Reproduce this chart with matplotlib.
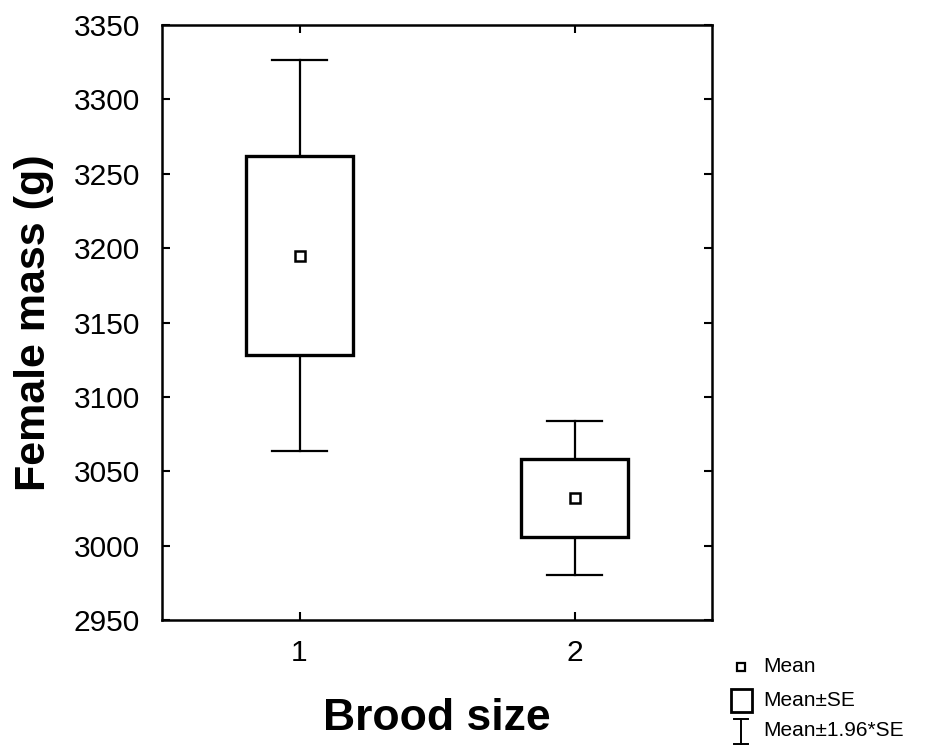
import matplotlib
matplotlib.use("Agg")
import matplotlib.pyplot as plt
from matplotlib.patches import Rectangle
from matplotlib.lines import Line2D
import numpy as np

plt.rcParams['font.family'] = ['Liberation Sans', 'DejaVu Sans']

# Female mass by brood size: mean and standard error
groups = [1, 2]
group_labels = ["1", "2"]
means = [3195.0, 3032.0]
se = [67.0, 26.5]
ci_factor = 1.96
y_ticks = [2950, 3000, 3050, 3100, 3150, 3200, 3250, 3300, 3350]

fig = plt.figure(figsize=(9.27, 7.46), dpi=100)
ax = fig.add_axes([162 / 927, 1 - 620 / 746, 550 / 927, 595 / 746])

box_w = 0.39
cap_w = 0.2
for x, m, s in zip(groups, means, se):
    lo, hi = m - ci_factor * s, m + ci_factor * s
    # whiskers (mean ± 1.96*SE)
    ax.plot([x, x], [m + s, hi], color='black', lw=1.6, zorder=2)
    ax.plot([x, x], [lo, m - s], color='black', lw=1.6, zorder=2)
    ax.plot([x - cap_w / 2, x + cap_w / 2], [hi, hi], color='black', lw=1.6, zorder=2)
    ax.plot([x - cap_w / 2, x + cap_w / 2], [lo, lo], color='black', lw=1.6, zorder=2)
    # box (mean ± SE)
    ax.add_patch(Rectangle((x - box_w / 2, m - s), box_w, 2 * s,
                           facecolor='white', edgecolor='black', lw=2.4, zorder=3))
    # mean marker
    ax.plot([x], [m], marker='s', ms=7.5, mfc='white', mec='black', mew=1.8, zorder=4)

ax.set_xlim(0.5, 2.5)
ax.set_ylim(2950, 3350)
ax.set_xticks(groups)
ax.set_xticklabels(group_labels)
ax.set_yticks(y_ticks)
ax.tick_params(axis='both', direction='in', length=6, width=1.5, labelsize=21.5,
               top=True, right=True)
ax.tick_params(axis='x', pad=14)
ax.tick_params(axis='y', pad=16)
for sp in ax.spines.values():
    sp.set_linewidth(1.8)

ax.set_xlabel("Brood size", fontsize=32, fontweight='bold', labelpad=22)
ax.set_ylabel("Female mass (g)", fontsize=31, fontweight='bold', labelpad=14)

# Legend drawn in figure coordinates
W, H = 927, 746
def fx(px):
    return px / W
def fy(py):
    return 1 - py / H

fig.add_artist(Line2D([fx(741)], [fy(667)], marker='s', ms=6, mfc='white',
                      mec='black', mew=1.6, transform=fig.transFigure))
fig.text(fx(763), fy(667), "Mean", fontsize=15, va='center', ha='left')

fig.add_artist(Rectangle((fx(731), fy(712)), fx(21), 23 / H, facecolor='white',
                         edgecolor='black', lw=2.0, transform=fig.transFigure))
fig.text(fx(763), fy(701), "Mean±SE", fontsize=15, va='center', ha='left')

fig.add_artist(Line2D([fx(741), fx(741)], [fy(719), fy(744)], color='black', lw=1.4,
                      transform=fig.transFigure))
fig.add_artist(Line2D([fx(734), fx(748)], [fy(719), fy(719)], color='black', lw=1.4,
                      transform=fig.transFigure))
fig.add_artist(Line2D([fx(734), fx(748)], [fy(744), fy(744)], color='black', lw=1.4,
                      transform=fig.transFigure))
fig.text(fx(763), fy(731), "Mean±1.96*SE", fontsize=15, va='center', ha='left')

fig.savefig("out.png", dpi=100)
